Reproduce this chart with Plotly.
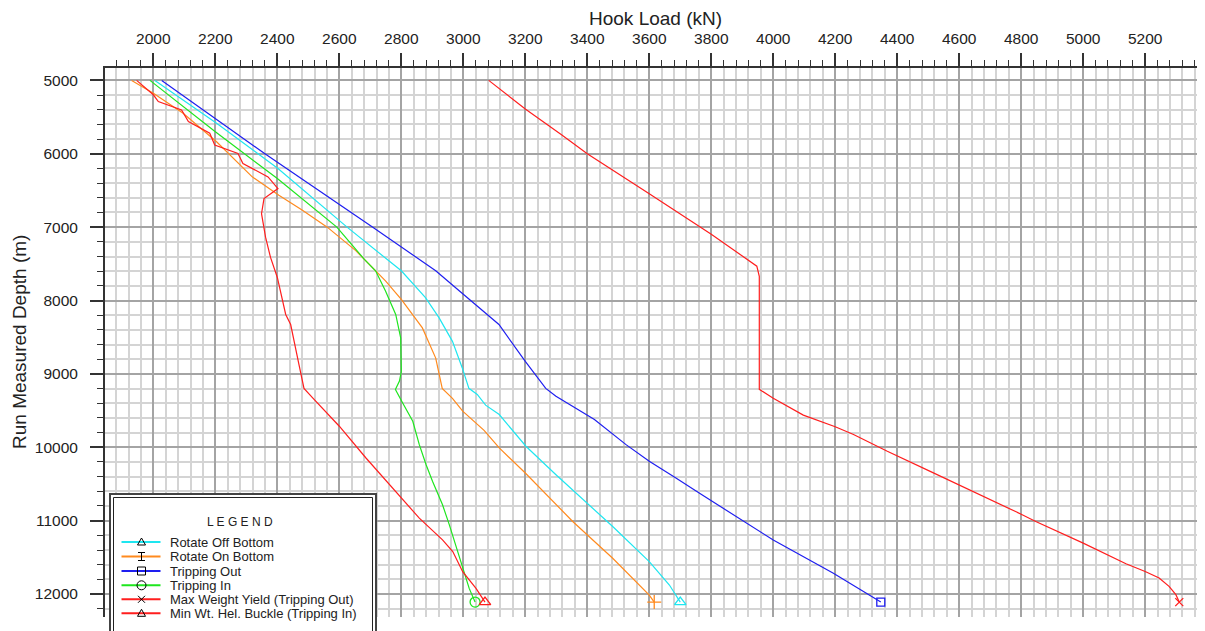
import plotly.graph_objects as go

# ---------------- data ----------------
rob_depth = [5000, 5584, 6201, 7000, 7595, 7961, 8236, 8556, 8922, 9197, 9280, 9426, 9554, 9986,
             10374, 10761, 11080, 11558, 11877, 12110]
rob_load = [2005, 2204, 2402, 2625, 2800, 2878, 2922, 2965, 2997, 3018, 3045, 3072, 3116, 3202,
            3299, 3401, 3482, 3600, 3665, 3700]

ronb_depth = [5000, 5174, 5447, 5836, 6314, 6565, 6771, 7000, 7320, 7503, 7732, 7984, 8190, 8373,
              8785, 9197, 9334, 9508, 9769, 10009, 10351, 11011, 11512, 12014, 12110]
ronb_load = [1930, 2000, 2096, 2204, 2319, 2405, 2481, 2561, 2653, 2696, 2749, 2800, 2835, 2868,
             2911, 2932, 2965, 2998, 3067, 3116, 3200, 3353, 3482, 3600, 3616]

tout_depth = [5000, 6000, 7000, 7265, 7595, 7915, 8190, 8327, 8830, 9197, 9303, 9622, 9964, 10191,
              10419, 10624, 11263, 11717, 12110]
tout_load = [2027, 2360, 2708, 2800, 2911, 3000, 3077, 3115, 3200, 3266, 3299, 3423, 3525, 3600,
             3686, 3761, 4000, 4194, 4347]

tin_depth = [5000, 5699, 6338, 7000, 7435, 7595, 7870, 8190, 8510, 8968, 9098, 9212, 9394, 9645,
             9964, 10237, 10465, 10784, 11057, 11558, 11923, 12110]
tin_load = [1989, 2200, 2400, 2592, 2680, 2717, 2749, 2782, 2798, 2800, 2794, 2781, 2804, 2837,
            2858, 2880, 2901, 2933, 2955, 2992, 3019, 3038]

myield_depth = [5000, 5390, 5743, 6000, 6546, 7005, 7096, 7532, 7670, 9210, 9333, 9562, 9721, 9826,
                10055, 10322, 10512, 10912, 11011, 11306, 11587, 11692, 11782, 11896, 12009, 12110]
myield_load = [3082, 3200, 3318, 3400, 3600, 3765, 3800, 3947, 3955, 3955, 4000, 4097, 4200, 4259,
               4368, 4503, 4600, 4800, 4847, 5000, 5138, 5200, 5245, 5277, 5299, 5310]

buckle_depth = [5000, 5196, 5288, 5402, 5562, 5721, 5881, 5995, 6132, 6315, 6474, 6611, 6817, 7137,
                7412, 7686, 8190, 8327, 8876, 9197, 9326, 9713, 10146, 10670, 10966, 11262, 11421,
                11695, 11923, 12110]
buckle_load = [1946, 2000, 2016, 2091, 2113, 2182, 2198, 2273, 2289, 2370, 2402, 2357, 2349, 2362,
               2378, 2400, 2427, 2443, 2470, 2486, 2514, 2600, 2686, 2794, 2858, 2933, 2966,
               2998, 3041, 3070]

series_names = ["Rotate Off Bottom", "Rotate On Bottom", "Tripping Out", "Tripping In",
                "Max Weight Yield (Tripping Out)", "Min Wt. Hel. Buckle (Tripping In)"]

x_title = "Hook Load (kN)"
y_title = "Run Measured Depth (m)"
legend_title = "L E G E N D"

# ---------------- styling ----------------
CYAN = "#1EE6F0"
ORANGE = "#FF8A1E"
BLUE = "#1E1EF0"
GREEN = "#1EE61E"
RED = "#FF1E1E"
FONT = "Liberation Sans, Arial, sans-serif"

OFF = 8                      # default page body margin in the browser
W, H = 1205 - OFF, 631 - OFF
ML, MR, MT, MB = 105 - OFF, 0, 68 - OFF, 14
PW, PH = W - ML - MR, H - MT - MB


def px(x):
    """page pixel x -> paper coordinate"""
    return (x - OFF - ML) / PW


def py(y):
    """page pixel y -> paper coordinate"""
    return (H - MB - (y - OFF)) / PH


series = [
    (rob_load, rob_depth, CYAN, "triangle-up-open", 10),
    (ronb_load, ronb_depth, ORANGE, "cross-thin-open", 10),
    (tout_load, tout_depth, BLUE, "square-open", 8),
    (tin_load, tin_depth, GREEN, "circle-open", 10),
    (myield_load, myield_depth, RED, "x-thin-open", 8),
    (buckle_load, buckle_depth, RED, "triangle-up-open", 10),
]

fig = go.Figure()
for (xs, ys, col, sym, sz), name in zip(series, series_names):
    fig.add_trace(go.Scatter(x=xs, y=ys, mode="lines", name=name,
                             line=dict(color=col, width=1.2), showlegend=False,
                             hoverinfo="skip"))
    fig.add_trace(go.Scatter(x=[xs[-1]], y=[ys[-1]], mode="markers", name=name,
                             marker=dict(symbol=sym, size=sz, color=col,
                                         line=dict(color=col, width=1.3)),
                             showlegend=False, hoverinfo="skip"))

axis_common = dict(
    showline=True, linecolor="#333333", linewidth=2,
    ticks="outside", tickcolor="#333333", tickwidth=1.5, ticklen=13,
    showgrid=True, gridcolor="#A4A4A4", gridwidth=1.5,
    zeroline=False, tickformat="d",
    tickfont=dict(family=FONT, size=15.5, color="#222222"),
)

fig.update_xaxes(
    side="top", range=[1844, 5393], tick0=0, dtick=200,
    ticklabelstandoff=3,
    minor=dict(tick0=0, dtick=40, ticks="outside", ticklen=6, tickwidth=1,
               tickcolor="#333333", showgrid=True, gridcolor="#D4D4D4", gridwidth=1.5),
    **axis_common,
)
fig.update_yaxes(
    range=[12313, 4831], tick0=0, dtick=1000,
    ticklabelstandoff=9,
    minor=dict(tick0=0, dtick=200, ticks="outside", ticklen=6, tickwidth=1,
               tickcolor="#333333", showgrid=True, gridcolor="#D4D4D4", gridwidth=1.5),
    **axis_common,
)

shapes = []
annotations = []

# axis titles
annotations.append(dict(text=x_title, xref="paper", yref="paper", x=px(655), y=py(18),
                        xanchor="center", yanchor="middle", showarrow=False,
                        font=dict(family=FONT, size=19, color="#222222")))
annotations.append(dict(text=y_title, xref="paper", yref="paper", x=px(19), y=py(342),
                        xanchor="center", yanchor="middle", showarrow=False, textangle=-90,
                        font=dict(family=FONT, size=19, color="#222222")))

# legend box (double border)
shapes.append(dict(type="rect", xref="paper", yref="paper", layer="above",
                   x0=px(110), x1=px(376), y0=py(494), y1=py(645),
                   line=dict(color="#444444", width=2), fillcolor="white"))
shapes.append(dict(type="rect", xref="paper", yref="paper", layer="above",
                   x0=px(113.5), x1=px(372.5), y0=py(497.5), y1=py(645),
                   line=dict(color="#222222", width=1), fillcolor="white"))

annotations.append(dict(text=legend_title, xref="paper", yref="paper", x=px(240), y=py(522),
                        xanchor="center", yanchor="middle", showarrow=False,
                        font=dict(family=FONT, size=12, color="#222222")))

row_y = [542, 556.5, 571, 585.3, 599.3, 613.3]
lx0, lx1, mx, tx = 121.5, 160.5, 141.5, 167.5
blk = dict(color="black", width=1)
for i, ((xs, ys, col, sym, sz), name) in enumerate(zip(series, series_names)):
    yy = row_y[i]
    shapes.append(dict(type="line", xref="paper", yref="paper", layer="above",
                       x0=px(lx0), x1=px(lx1), y0=py(yy), y1=py(yy),
                       line=dict(color=col, width=2)))
    if sym == "triangle-up-open":
        shapes.append(dict(type="path", xref="paper", yref="paper", layer="above",
                           path=f"M {px(mx-4)},{py(yy+3)} L {px(mx+4)},{py(yy+3)} "
                                f"L {px(mx)},{py(yy-4)} Z",
                           line=blk))
    elif sym == "cross-thin-open":
        for seg in [(mx, yy - 4, mx, yy + 4), (mx - 3.5, yy - 4, mx + 3.5, yy - 4),
                    (mx - 3.5, yy + 4, mx + 3.5, yy + 4)]:
            shapes.append(dict(type="line", xref="paper", yref="paper", layer="above",
                               x0=px(seg[0]), y0=py(seg[1]), x1=px(seg[2]), y1=py(seg[3]),
                               line=blk))
    elif sym == "square-open":
        shapes.append(dict(type="rect", xref="paper", yref="paper", layer="above",
                           x0=px(mx - 4), x1=px(mx + 4), y0=py(yy + 4), y1=py(yy - 4),
                           line=blk))
    elif sym == "circle-open":
        shapes.append(dict(type="circle", xref="paper", yref="paper", layer="above",
                           x0=px(mx - 4.5), x1=px(mx + 4.5), y0=py(yy + 4.5), y1=py(yy - 4.5),
                           line=blk))
    elif sym == "x-thin-open":
        for seg in [(mx - 3.5, yy - 3.5, mx + 3.5, yy + 3.5),
                    (mx - 3.5, yy + 3.5, mx + 3.5, yy - 3.5)]:
            shapes.append(dict(type="line", xref="paper", yref="paper", layer="above",
                               x0=px(seg[0]), y0=py(seg[1]), x1=px(seg[2]), y1=py(seg[3]),
                               line=blk))
    annotations.append(dict(text=name, xref="paper", yref="paper", x=px(tx), y=py(yy),
                            xanchor="left", yanchor="middle", showarrow=False,
                            font=dict(family=FONT, size=13, color="#222222")))

fig.update_layout(
    width=W, height=H,
    margin=dict(l=ML, r=MR, t=MT, b=MB, pad=0),
    paper_bgcolor="white", plot_bgcolor="white",
    showlegend=False,
    shapes=shapes, annotations=annotations,
    font=dict(family=FONT),
)

fig.write_html("out.html")
